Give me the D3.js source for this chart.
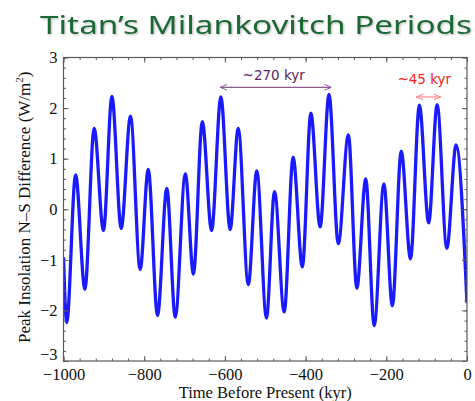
<!DOCTYPE html>
<html>
<head>
<meta charset="utf-8">
<script src="https://cdn.jsdelivr.net/npm/d3@7"></script>
<style>
  html, body { margin: 0; padding: 0; background: #fff; }
  svg { display: block; }
</style>
</head>
<body>
<svg id="chart" width="475" height="401"></svg>
<script>
// ---- Data (successive extrema of the curve) ----
const timeKyr = [-1000, -992, -970, -947, -924, -901, -880, -857, -834, -810, -790, -767, -744, -723, -698, -678,
  -656, -633, -610, -587, -567, -542, -521, -497, -477, -453, -431, -408, -387, -364, -342, -319,
  -294, -273, -251, -230, -206, -185, -163, -140, -118, -95, -74, -50, -27, 0];
const insolation = [-0.95, -2.24, 0.68, -1.58, 1.60, -0.42, 2.23, -0.38, 1.84, -1.19, 0.79, -2.10, 0.41, -2.13, 0.70, -1.28,
  1.73, -0.42, 2.22, -0.40, 1.60, -1.49, 0.76, -2.15, 0.35, -2.03, 1.03, -1.14, 1.90, -0.35, 2.27, -0.68,
  1.47, -1.56, 0.60, -2.30, 0.50, -1.91, 1.15, -0.98, 2.06, -0.27, 2.07, -0.77, 1.27, -1.85];
const xMajorTicks = [-1000, -800, -600, -400, -200, 0];
const yMajorTicks = [-3, -2, -1, 0, 1, 2, 3];
const xMinorTicks = d3.range(-1000, 1, 40);
const yMinorTicks = d3.range(-3, 3.001, 0.2).map(v => +v.toFixed(1));
const titleText = "Titan\u2019s Milankovitch Periods";
const xLabel = "Time Before Present (kyr)";
const annotations = [
  { text: "~270 kyr", from: -612, to: -336, arrowY: 2.41, textX: -479, textY: 2.55, textColor: "#5e1e63", arrowColor: "#8c5c90" },
  { text: "~45 kyr", from: -126, to: -65, arrowY: 2.22, textX: -106, textY: 2.47, textColor: "#ff1c1c", arrowColor: "#ff8080" }
];

// ---- Layout ----
const L = 63.5, R = 467, T = 57.5, B = 361;
const svg = d3.select("#chart");
const x = d3.scaleLinear().domain([-1000, 0]).range([L, R]);
const y = d3.scaleLinear().domain([-3, 3]).range([B, T]);
const fmt = d3.format("d");
const frameColor = "#5a5a5a";
const serif = "'Liberation Serif', 'Times New Roman', serif";

// Title
const defs = svg.append("defs");
const flt = defs.append("filter").attr("id", "shadow").attr("x", "-5%").attr("y", "-20%").attr("width", "110%").attr("height", "140%");
flt.append("feDropShadow").attr("dx", 1).attr("dy", 1).attr("stdDeviation", 0.8).attr("flood-color", "#9a9a9a").attr("flood-opacity", 0.7);

svg.append("text")
  .attr("x", 40).attr("y", 34)
  .attr("textLength", 432).attr("lengthAdjust", "spacingAndGlyphs")
  .attr("font-family", "'Noto Sans', 'DejaVu Sans', sans-serif")
  .attr("font-size", 26)
  .attr("fill", "#146a32")
  .attr("filter", "url(#shadow)")
  .text(titleText);

// Curve
const line = d3.line()
  .x((d, i) => x(timeKyr[i]))
  .y(d => y(d))
  .curve(d3.curveMonotoneX);

defs.append("clipPath").attr("id", "plotclip")
  .append("rect").attr("x", L).attr("y", T).attr("width", R - L).attr("height", B - T);

svg.append("path")
  .datum(insolation)
  .attr("clip-path", "url(#plotclip)")
  .attr("d", line)
  .attr("fill", "none")
  .attr("stroke", "#1a1aff")
  .attr("stroke-width", 3.3)
  .attr("stroke-linejoin", "round");

// Axes (ticks pointing inward, Mathematica-style frame)
function styleAxis(g) {
  g.select(".domain").remove();
  g.selectAll(".tick line").attr("stroke", frameColor).attr("stroke-width", 1);
  g.selectAll(".tick text").attr("font-family", serif).attr("font-size", 16.5).attr("fill", "#111");
}
// bottom
svg.append("g").attr("transform", `translate(0,${B})`)
  .call(d3.axisBottom(x).tickValues(xMinorTicks).tickSize(-2.5).tickFormat(""))
  .call(styleAxis);
svg.append("g").attr("transform", `translate(0,${B})`)
  .call(d3.axisBottom(x).tickValues(xMajorTicks).tickSize(-5).tickPadding(7.5).tickFormat(fmt))
  .call(styleAxis);
// top
svg.append("g").attr("transform", `translate(0,${T})`)
  .call(d3.axisTop(x).tickValues(xMinorTicks).tickSize(-2.5).tickFormat(""))
  .call(styleAxis);
svg.append("g").attr("transform", `translate(0,${T})`)
  .call(d3.axisTop(x).tickValues(xMajorTicks).tickSize(-5).tickFormat(""))
  .call(styleAxis);
// left
svg.append("g").attr("transform", `translate(${L},0)`)
  .call(d3.axisLeft(y).tickValues(yMinorTicks).tickSize(-2.5).tickFormat(""))
  .call(styleAxis);
const yAxisG = svg.append("g").attr("transform", `translate(${L},0)`)
  .call(d3.axisLeft(y).tickValues(yMajorTicks).tickSize(-5).tickPadding(6).tickFormat(fmt))
  .call(styleAxis);
// lift the bottom "−3" label slightly, as in the reference
yAxisG.selectAll(".tick text").filter(d => d === -3).attr("dy", "-0.08em");
// right
svg.append("g").attr("transform", `translate(${R},0)`)
  .call(d3.axisRight(y).tickValues(yMinorTicks).tickSize(-2.5).tickFormat(""))
  .call(styleAxis);
svg.append("g").attr("transform", `translate(${R},0)`)
  .call(d3.axisRight(y).tickValues(yMajorTicks).tickSize(-5).tickFormat(""))
  .call(styleAxis);

// Frame
svg.append("rect")
  .attr("x", L).attr("y", T).attr("width", R - L).attr("height", B - T)
  .attr("fill", "none").attr("stroke", frameColor).attr("stroke-width", 1.2);

// Axis titles
svg.append("text")
  .attr("x", (L + R) / 2).attr("y", 397.5)
  .attr("text-anchor", "middle")
  .attr("font-family", serif).attr("font-size", 16.5).attr("fill", "#111")
  .text(xLabel);

const yl = svg.append("text")
  .attr("transform", `translate(30,${(T + B) / 2 - 2}) rotate(-90)`)
  .attr("text-anchor", "middle")
  .attr("font-family", serif).attr("font-size", 17).attr("fill", "#111");
yl.append("tspan").text("Peak Insolation N\u2013S Difference (W/m");
yl.append("tspan").attr("font-size", 11).attr("dy", -7).text("2");
yl.append("tspan").attr("dy", 7).text(")");

// Annotations
annotations.forEach((a, i) => {
  const id = "arr" + i;
  const m = defs.append("marker").attr("id", id)
    .attr("viewBox", "0 -5 10 10").attr("refX", 10).attr("refY", 0)
    .attr("markerWidth", 7).attr("markerHeight", 7).attr("markerUnits", "userSpaceOnUse")
    .attr("orient", "auto-start-reverse");
  m.append("path").attr("d", "M0,-4L10,0L0,4").attr("fill", "none").attr("stroke", a.arrowColor).attr("stroke-width", 1.4);
  svg.append("line")
    .attr("x1", x(a.from)).attr("x2", x(a.to))
    .attr("y1", y(a.arrowY)).attr("y2", y(a.arrowY))
    .attr("stroke", a.arrowColor).attr("stroke-width", 1.1)
    .attr("marker-start", `url(#${id})`).attr("marker-end", `url(#${id})`);
  svg.append("text")
    .attr("x", x(a.textX)).attr("y", y(a.textY))
    .attr("text-anchor", "middle")
    .attr("font-family", "'DejaVu Sans', Verdana, sans-serif").attr("font-size", 13.5)
    .attr("fill", a.textColor)
    .text(a.text);
});
</script>
</body>
</html>
